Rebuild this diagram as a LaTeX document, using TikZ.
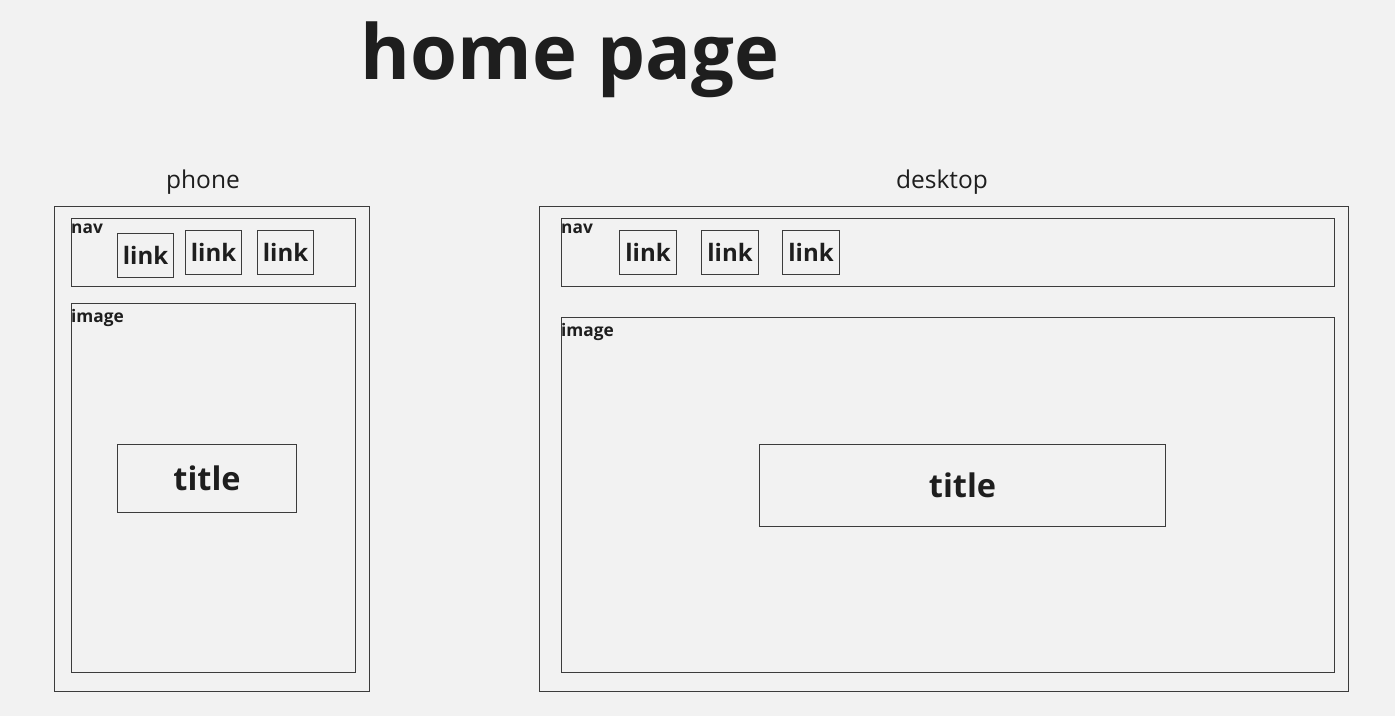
\documentclass[tikz,border=0pt]{standalone}
\usepackage{fontspec}
\setmainfont{Open Sans}
\definecolor{bgcol}{HTML}{F2F2F2}
\definecolor{ink}{HTML}{1E1E1E}
\definecolor{edge}{HTML}{3C3C3C}
\begin{document}
\begin{tikzpicture}[x=1pt,y=-1pt,
  box/.style={draw=edge, line width=1.1pt, rectangle, inner sep=0pt, anchor=north west},
  tag/.style={anchor=north west, inner sep=0pt, text=ink, font=\bfseries\fontsize{17.3}{19}\selectfont},
  linktxt/.style={box, text=ink, font=\bfseries\fontsize{24}{28}\selectfont, minimum width=56pt, minimum height=44pt},
  titletxt/.style={box, text=ink, font=\bfseries\fontsize{32.5}{36}\selectfont},
  caption/.style={text=ink, inner sep=0pt, font=\fontsize{24.5}{28}\selectfont}]
\fill[bgcol] (0,0) rectangle (1395,716);
\useasboundingbox (0,0) rectangle (1395,716);

% heading
\node[text=ink, inner sep=0pt, font=\bfseries\fontsize{76}{86}\selectfont] (heading) at (570,60) {home page};

% phone layout
\node[caption] (phonecap) at (203,182) {phone};
\node[box, minimum width=315pt, minimum height=485pt] (phone) at (54,206) {};
\node[box, minimum width=284pt, minimum height=68pt] (pnav) at (71,218) {};
\node[tag] (pnavlbl) at (71,224) {nav};
\node[linktxt] (plink1) at (117,233) {link};
\node[linktxt] (plink2) at (185,230) {link};
\node[linktxt] (plink3) at (257,230) {link};
\node[box, minimum width=284pt, minimum height=369pt] (pimage) at (71,303) {};
\node[tag] (pimagelbl) at (71,309) {image};
\node[titletxt, minimum width=179pt, minimum height=68pt] (ptitle) at (117,444) {title};

% desktop layout
\node[caption] (deskcap) at (942,182) {desktop};
\node[box, minimum width=809pt, minimum height=485pt] (desk) at (539,206) {};
\node[box, minimum width=773pt, minimum height=68pt] (dnav) at (561,218) {};
\node[tag] (dnavlbl) at (561,224) {nav};
\node[linktxt, minimum width=57pt] (dlink1) at (619,230) {link};
\node[linktxt, minimum width=57pt] (dlink2) at (701,230) {link};
\node[linktxt, minimum width=57pt] (dlink3) at (782,230) {link};
\node[box, minimum width=773pt, minimum height=355pt] (dimage) at (561,317) {};
\node[tag] (dimagelbl) at (561,323) {image};
\node[titletxt, minimum width=406pt, minimum height=82pt] (dtitle) at (759,444) {title};
\end{tikzpicture}
\end{document}
